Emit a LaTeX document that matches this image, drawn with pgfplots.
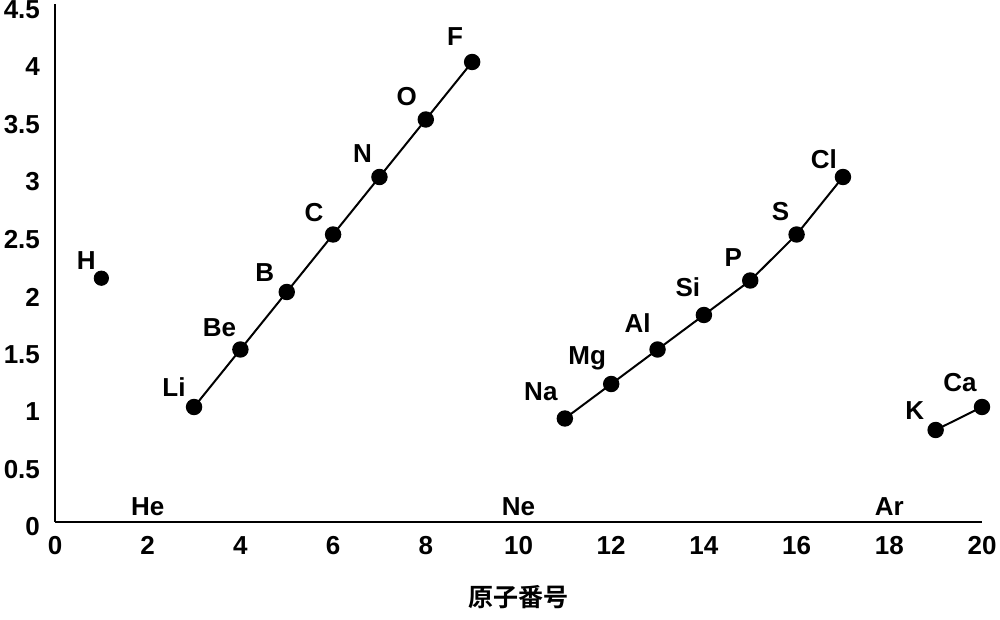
\documentclass[border=0pt]{standalone}
\usepackage{fontspec}
\setmainfont{Liberation Sans}
\newfontfamily\cjk{Noto Sans CJK JP}[BoldFont={Noto Sans CJK JP Bold}]
\usepackage{pgfplots}
\usepackage{pgfplotstable}
\pgfplotsset{compat=1.18}

% x y dx dy (pt offsets of labels) label
\pgfplotstableread{
x y dx dy lab
1 2.12 -7.5 9 H
}\tH
\pgfplotstableread{
x y dx dy lab
3 1.0 -10 10 Li
4 1.5 -10.5 11 Be
5 2.0 -11 9.5 B
6 2.5 -9.5 11 C
7 3.0 -8.5 11.5 N
8 3.5 -9.5 11.5 O
9 4.0 -8.5 12.5 F
}\tTwo
\pgfplotstableread{
x y dx dy lab
11 0.9 -12 13.5 Na
12 1.2 -12 13 Mg
13 1.5 -10 13 Al
14 1.8 -8 14 Si
15 2.1 -8.5 11.5 P
16 2.5 -8 11.5 S
17 3.0 -9.5 9 Cl
}\tThree
\pgfplotstableread{
x y dx dy lab
19 0.8 -10.5 9.5 K
20 1.0 -11 12 Ca
}\tFour

\begin{document}
\begin{tikzpicture}
\begin{axis}[
  scale only axis,
  width=463.5pt, height=258.75pt,
  xmin=0, xmax=20, ymin=0, ymax=4.5,
  axis lines=left,
  axis line style={-, line width=1.4pt, black},
  xtick={0,2,...,20},
  ytick={0,0.5,1,1.5,2,2.5,3,3.5,4,4.5},
  major tick length=0pt,
  /pgf/number format/assume math mode=true,
  ticklabel style={font=\bfseries\fontsize{13}{13}\selectfont},
  xticklabel style={yshift=-3pt, text height=9.5pt, text depth=0pt},
  yticklabel style={xshift=-4pt, yshift=-2.5pt},
  xlabel={\cjk\bfseries 原子番号},
  xlabel style={at={(axis description cs:0.5,0)}, anchor=center, yshift=-37.5pt, font=\fontsize{12.5}{12.5}\selectfont},
  clip=false,
  nodes near coords,
  point meta=explicit symbolic,
  visualization depends on={\thisrow{dx}\as\dx},
  visualization depends on={\thisrow{dy}\as\dy},
  every node near coord/.append style={anchor=center, xshift=\dx pt, yshift=\dy pt, font=\bfseries\fontsize{13}{13}\selectfont, black},
]
\addplot[only marks, black, mark=*, mark size=3.6pt, mark options={fill=black, draw=black}] table[x=x, y=y, meta=lab] {\tH};
\addplot[black, line width=1pt, mark=*, mark size=3.6pt, mark options={fill=black, draw=black}] table[x=x, y=y, meta=lab] {\tTwo};
\addplot[black, line width=1pt, mark=*, mark size=3.6pt, mark options={fill=black, draw=black}] table[x=x, y=y, meta=lab] {\tThree};
\addplot[black, line width=1pt, mark=*, mark size=3.6pt, mark options={fill=black, draw=black}] table[x=x, y=y, meta=lab] {\tFour};
\node[font=\bfseries\fontsize{13}{13}\selectfont] at (axis cs:2,0.13) {He};
\node[font=\bfseries\fontsize{13}{13}\selectfont] at (axis cs:10,0.13) {Ne};
\node[font=\bfseries\fontsize{13}{13}\selectfont] at (axis cs:18,0.13) {Ar};
\coordinate (bl) at (rel axis cs:0,0);
\end{axis}
\pgfresetboundingbox
\path (bl) ++(-27.5pt,-49pt) rectangle ++(500pt,310pt);
\end{tikzpicture}
\end{document}
